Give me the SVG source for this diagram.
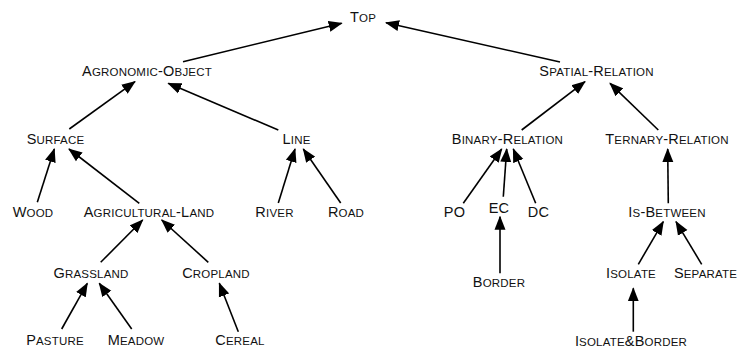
<svg xmlns="http://www.w3.org/2000/svg" width="741" height="350" viewBox="0 0 741 350">
<style>
text{font-family:"Liberation Sans",Arial,sans-serif;font-size:14.5px;fill:#111;text-anchor:middle;letter-spacing:0.2px}
.s{font-size:11.5px;text-transform:uppercase}
.e line{stroke:#000;stroke-width:1.6;marker-end:url(#ah)}
</style>
<defs>
<marker id="ah" markerUnits="userSpaceOnUse" markerWidth="14" markerHeight="12" refX="13" refY="5.5" orient="auto" viewBox="0 0 14 11">
<path d="M0,0 L14,5.5 L0,11 Z" fill="#000"/>
</marker>
</defs>
<g class="e" id="connectors">
<line x1="183" y1="61.7" x2="341.7" y2="23.3"/>
<line x1="560" y1="62" x2="386" y2="22.7"/>
<line x1="69.3" y1="129" x2="135" y2="81.7"/>
<line x1="278.3" y1="130" x2="168.3" y2="83.3"/>
<line x1="37.3" y1="202.3" x2="54.3" y2="149"/>
<line x1="139.3" y1="203.3" x2="69" y2="149"/>
<line x1="278.3" y1="203" x2="295" y2="149"/>
<line x1="340.7" y1="203" x2="303.3" y2="149"/>
<line x1="100.7" y1="262.3" x2="142.7" y2="220"/>
<line x1="208.3" y1="262.3" x2="161.7" y2="220"/>
<line x1="61.7" y1="329" x2="87.3" y2="283.3"/>
<line x1="131.7" y1="329" x2="99.3" y2="283.3"/>
<line x1="238.3" y1="331.7" x2="219.3" y2="283.3"/>
<line x1="521.7" y1="130" x2="585" y2="81.7"/>
<line x1="658.3" y1="130" x2="610" y2="83.3"/>
<line x1="463.3" y1="203.3" x2="501.7" y2="149"/>
<line x1="503.3" y1="196.7" x2="506.7" y2="149"/>
<line x1="535.7" y1="203.3" x2="513.3" y2="149"/>
<line x1="668.3" y1="203.3" x2="667.7" y2="149"/>
<line x1="500" y1="273.3" x2="500" y2="216.7"/>
<line x1="638.3" y1="264.3" x2="663.3" y2="221.7"/>
<line x1="701.7" y1="264.3" x2="676" y2="221.7"/>
<line x1="633.3" y1="331.7" x2="633.3" y2="288.3"/>
</g>
<g id="top"><text x="363" y="22">T<tspan class="s">op</tspan></text></g>
<g id="agronomic-object"><text x="147" y="76">A<tspan class="s">gronomic</tspan>-O<tspan class="s">bject</tspan></text></g>
<g id="spatial-relation"><text x="596.5" y="76">S<tspan class="s">patial</tspan>-R<tspan class="s">elation</tspan></text></g>
<g id="surface"><text x="55.5" y="144">S<tspan class="s">urface</tspan></text></g>
<g id="line"><text x="296.5" y="144">L<tspan class="s">ine</tspan></text></g>
<g id="binary-relation"><text x="507.5" y="144">B<tspan class="s">inary</tspan>-R<tspan class="s">elation</tspan></text></g>
<g id="ternary-relation"><text x="667" y="144">T<tspan class="s">ernary</tspan>-R<tspan class="s">elation</tspan></text></g>
<g id="wood"><text x="33" y="217">W<tspan class="s">ood</tspan></text></g>
<g id="agricultural-land"><text x="149" y="217">A<tspan class="s">gricultural</tspan>-L<tspan class="s">and</tspan></text></g>
<g id="river"><text x="274.5" y="217">R<tspan class="s">iver</tspan></text></g>
<g id="road"><text x="346" y="217">R<tspan class="s">oad</tspan></text></g>
<g id="po"><text x="454.5" y="217">PO</text></g>
<g id="ec"><text x="499" y="213">EC</text></g>
<g id="dc"><text x="538.5" y="217">DC</text></g>
<g id="is-between"><text x="667" y="217">I<tspan class="s">s</tspan>-B<tspan class="s">etween</tspan></text></g>
<g id="grassland"><text x="91" y="278">G<tspan class="s">rassland</tspan></text></g>
<g id="cropland"><text x="216" y="278">C<tspan class="s">ropland</tspan></text></g>
<g id="border"><text x="499" y="286.5">B<tspan class="s">order</tspan></text></g>
<g id="isolate"><text x="631" y="278">I<tspan class="s">solate</tspan></text></g>
<g id="separate"><text x="705.5" y="278">S<tspan class="s">eparate</tspan></text></g>
<g id="pasture"><text x="55" y="345">P<tspan class="s">asture</tspan></text></g>
<g id="meadow"><text x="136" y="345">M<tspan class="s">eadow</tspan></text></g>
<g id="cereal"><text x="240" y="345">C<tspan class="s">ereal</tspan></text></g>
<g id="isolate-border"><text x="631" y="345.5">I<tspan class="s">solate</tspan>&amp;B<tspan class="s">order</tspan></text></g>
</svg>
